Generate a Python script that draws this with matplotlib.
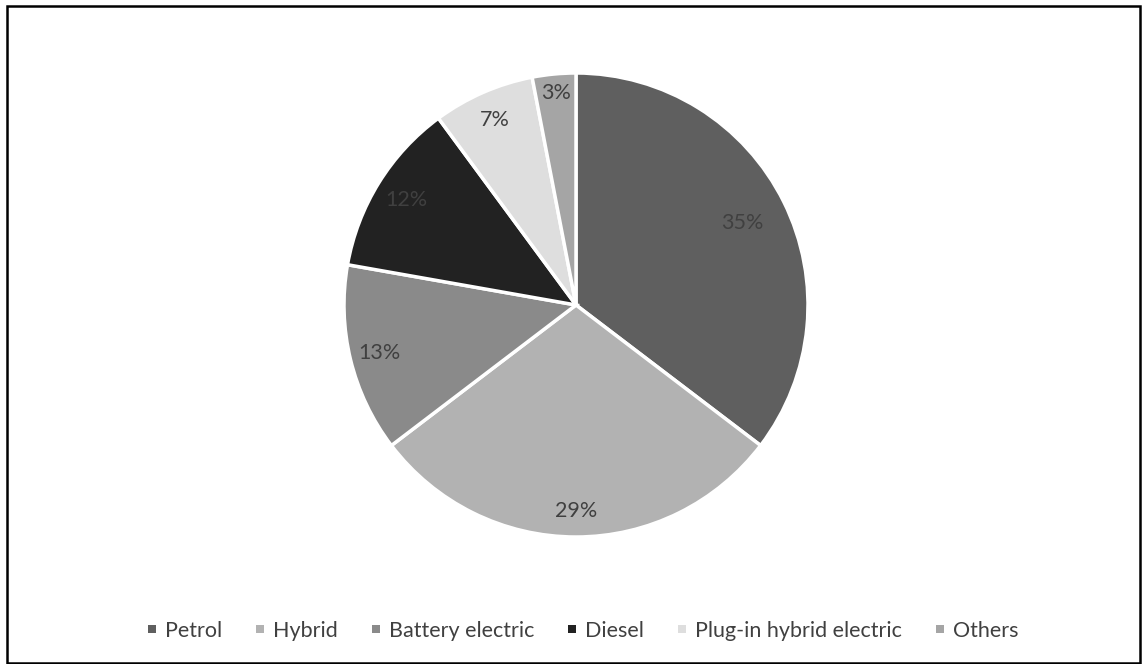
import matplotlib
matplotlib.use("Agg")
import matplotlib.pyplot as plt
from matplotlib.patches import Rectangle, Patch
import numpy as np

categories = ["Petrol", "Hybrid", "Battery electric", "Diesel",
              "Plug-in hybrid electric", "Others"]
shares = [35, 29, 13, 12, 7, 3]

colors = ["#5f5f5f", "#b2b2b2", "#8a8a8a", "#222222", "#dedede", "#a5a5a5"]
label_dist = [0.80, 0.89, 0.87, 0.86, 0.87, 0.92]

plt.rcParams["font.family"] = ["Lato", "DejaVu Sans"]
W, H = 1143, 664
fig = plt.figure(figsize=(W / 100, H / 100), dpi=100)
ax = fig.add_axes([344 / W, 127 / H, 464 / W, 464 / H])

wedges, texts, autotexts = ax.pie(
    shares, colors=colors, startangle=90, counterclock=False,
    radius=1.0, autopct=lambda p: f"{p:.0f}%",
    wedgeprops=dict(edgecolor="white", linewidth=2.5),
    textprops=dict(color="#404040", fontsize=15.5),
)
for w, t, d in zip(wedges, autotexts, label_dist):
    ang = np.deg2rad((w.theta1 + w.theta2) / 2)
    t.set_position((d * np.cos(ang), d * np.sin(ang)))
ax.set_xlim(-1.0, 1.0)
ax.set_ylim(-1.0, 1.0)
ax.set_aspect("equal")
ax.axis("off")

# legend swatches without the white wedge outline
swatches = [Patch(facecolor=w.get_facecolor(), edgecolor="none") for w in wedges]
fig.legend(swatches, categories, loc="center", bbox_to_anchor=(583 / W, 1 - 631 / H),
           ncol=6, frameon=False, fontsize=15.5, labelcolor="#404040",
           handlelength=0.38, handleheight=0.2, handletextpad=0.42,
           columnspacing=1.57)

fig.patches.append(Rectangle((7 / W, 1 / H), 1133 / W, 657 / H,
                             transform=fig.transFigure, fill=False,
                             edgecolor="black", linewidth=1.8))

fig.savefig("out.png", dpi=100, facecolor="white")
